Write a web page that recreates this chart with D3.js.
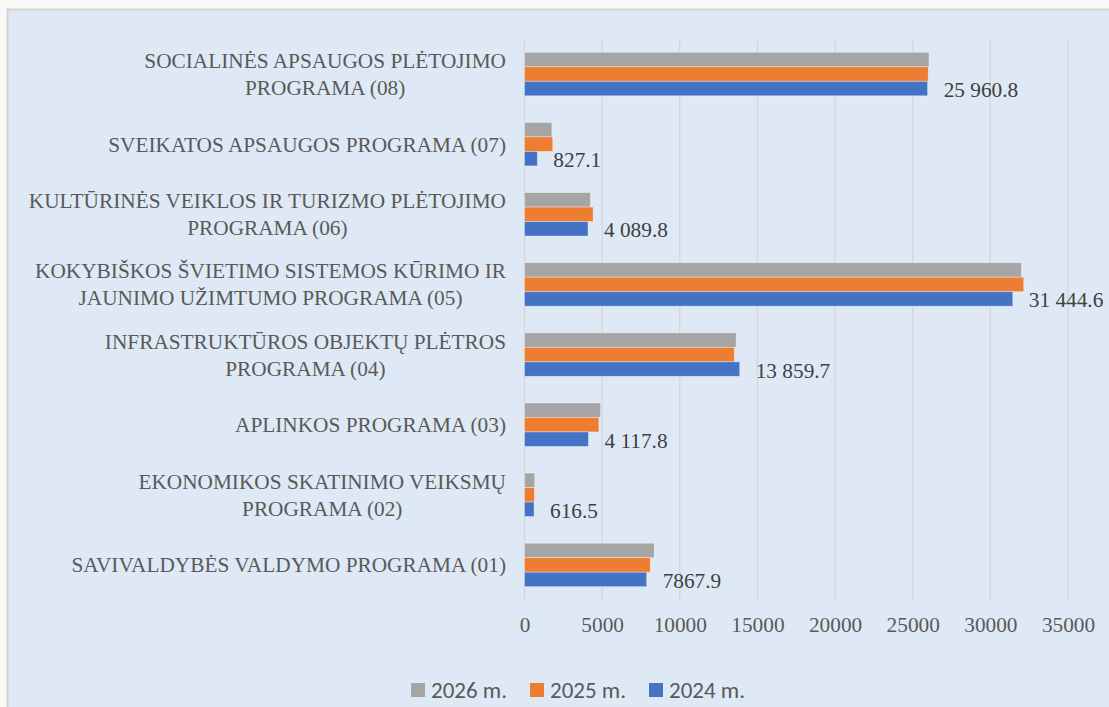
<!DOCTYPE html>
<html>
<head>
<meta charset="utf-8">
<script src="https://cdn.jsdelivr.net/npm/d3@7"></script>
<style>
  body { margin: 0; background: #f9f8f6; }
  svg { display: block; }
</style>
</head>
<body>
<div id="chart"></div>
<script>
// categories, top to bottom (line breaks as in the original labels)
const categories = [
  "SOCIALINĖS APSAUGOS PLĖTOJIMO\nPROGRAMA (08)",
  "SVEIKATOS APSAUGOS PROGRAMA (07)",
  "KULTŪRINĖS VEIKLOS IR TURIZMO PLĖTOJIMO\nPROGRAMA (06)",
  "KOKYBIŠKOS ŠVIETIMO SISTEMOS KŪRIMO IR\nJAUNIMO UŽIMTUMO PROGRAMA (05)",
  "INFRASTRUKTŪROS OBJEKTŲ PLĖTROS\nPROGRAMA (04)",
  "APLINKOS PROGRAMA (03)",
  "EKONOMIKOS SKATINIMO VEIKSMŲ\nPROGRAMA (02)",
  "SAVIVALDYBĖS VALDYMO PROGRAMA (01)"
];
const seriesNames = ["2026 m.", "2025 m.", "2024 m."];
const values2026 = [26050, 1760, 4250, 32000, 13630, 4900, 660, 8350];
const values2025 = [26000, 1820, 4420, 32150, 13510, 4790, 640, 8100];
const values2024 = [25960.8, 827.1, 4089.8, 31444.6, 13859.7, 4117.8, 616.5, 7867.9];
const labels2024 = ["25 960.8", "827.1", "4 089.8", "31 444.6", "13 859.7", "4 117.8", "616.5", "7867.9"];
const xTicks = [0, 5000, 10000, 15000, 20000, 25000, 30000, 35000];
const colors = ["#a5a5a5", "#ed7d31", "#4472c4"];

const W = 1109, H = 707;
const serif = "'Liberation Serif', 'Times New Roman', serif";
const svg = d3.select("#chart").append("svg")
    .attr("width", W).attr("height", H);

// chart area panel
svg.append("rect")
    .attr("x", 7.5).attr("y", 9.5)
    .attr("width", W).attr("height", H)
    .attr("fill", "#dee9f5")
    .attr("stroke", "#d6d3cf").attr("stroke-width", 2);

const plot = {left: 524.5, right: 1068, top: 39, bottom: 600};

const x = d3.scaleLinear().domain([0, 35000]).range([plot.left, plot.right]);
const y = d3.scaleBand().domain(categories).range([plot.top, plot.bottom])
    .paddingInner(0.38).paddingOuter(0.19);
const ySub = d3.scaleBand().domain(seriesNames).range([0, y.bandwidth()]);

// gridlines
svg.append("g")
    .selectAll("line")
    .data(xTicks)
    .join("line")
    .attr("x1", d => x(d)).attr("x2", d => x(d))
    .attr("y1", plot.top).attr("y2", plot.bottom)
    .attr("stroke", "#d4d7da").attr("stroke-width", 1.3);

// x axis tick labels
const xAxis = svg.append("g")
    .attr("transform", `translate(0, ${plot.bottom})`)
    .call(d3.axisBottom(x).tickValues(xTicks).tickSize(0).tickPadding(17).tickFormat(d3.format("d")));
xAxis.select(".domain").remove();
xAxis.attr("font-family", serif).attr("font-size", 21.3);
xAxis.selectAll("text").attr("fill", "#595959");

// bars
const allSeries = [values2026, values2025, values2024];
const groups = svg.append("g")
    .selectAll("g")
    .data(seriesNames)
    .join("g")
    .attr("fill", (d, i) => colors[i]);

groups.selectAll("rect")
    .data((s, i) => allSeries[i].map((v, j) => ({s, v, c: categories[j]})))
    .join("rect")
    .attr("x", x(0))
    .attr("y", d => y(d.c) + ySub(d.s))
    .attr("width", d => x(d.v) - x(0))
    .attr("height", ySub.bandwidth())
    .attr("stroke", "rgba(255,255,255,0.45)")
    .attr("stroke-width", 0.8);

// data labels for 2024
svg.append("g")
    .attr("font-family", serif)
    .attr("font-size", 21.3)
    .attr("fill", "#404040")
    .selectAll("text")
    .data(values2024)
    .join("text")
    .attr("x", d => x(d) + 16)
    .attr("y", (d, j) => y(categories[j]) + ySub("2024 m.") + ySub.bandwidth() / 2 + 1)
    .attr("dy", "0.35em")
    .text((d, j) => labels2024[j]);

// category labels (multi-line, centered lines, block right-aligned)
const lineH = 27;
const labelRight = 506;
const catG = svg.append("g")
    .attr("font-family", serif)
    .attr("font-size", 21.3)
    .attr("fill", "#595959");

categories.forEach(c => {
  const lines = c.split("\n");
  const cy = y(c) + y.bandwidth() / 2;
  const t = catG.append("text");
  const spans = lines.map((ln, k) => t.append("tspan")
      .attr("text-anchor", "middle")
      .attr("y", cy + (k - (lines.length - 1) / 2) * lineH)
      .attr("dy", "0.35em")
      .text(ln));
  const wMax = d3.max(spans, s => s.node().getComputedTextLength());
  spans.forEach(s => s.attr("x", labelRight - wMax / 2));
});

// legend
const legend = svg.append("g")
    .attr("transform", "translate(411, 683)");
const item = legend.selectAll("g")
    .data(seriesNames)
    .join("g")
    .attr("transform", (d, i) => `translate(${i * 119}, 0)`);
item.append("rect")
    .attr("width", 14).attr("height", 14)
    .attr("fill", (d, i) => colors[i]);
item.append("text")
    .attr("x", 20).attr("y", 7)
    .attr("dy", "0.35em")
    .attr("font-family", "Carlito, Lato, sans-serif")
    .attr("font-size", 23)
    .attr("fill", "#595959")
    .text(d => d);
</script>
</body>
</html>
